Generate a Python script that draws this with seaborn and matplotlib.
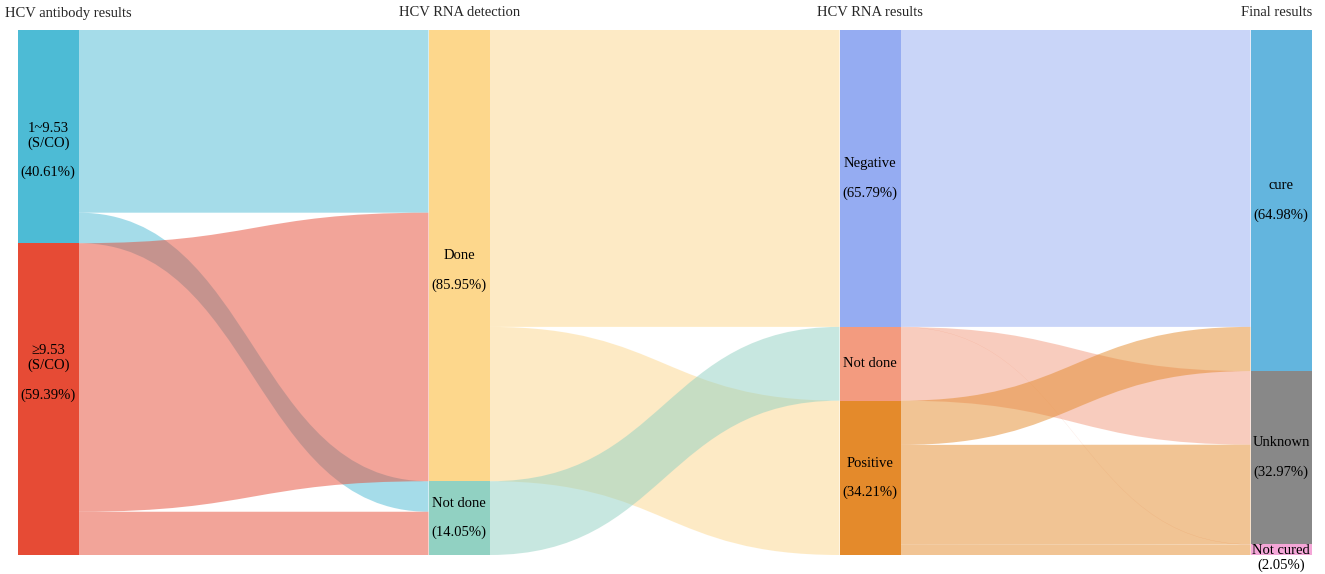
import matplotlib
matplotlib.use("Agg")
import matplotlib.pyplot as plt
from matplotlib.path import Path
from matplotlib.patches import PathPatch, Rectangle
import seaborn as sns

# stage headers
stages = ["HCV antibody results", "HCV RNA detection", "HCV RNA results", "Final results"]

# node ids per stage, top to bottom
stage_nodes = [
    ["ab_low", "ab_high"],
    ["done", "nd_det"],
    ["neg", "nd_res", "pos"],
    ["cure", "unknown", "not_cured"],
]

node_names = {
    "ab_low": "1~9.53\n(S/CO)\n\n(40.61%)",
    "ab_high": "≥9.53\n(S/CO)\n\n(59.39%)",
    "done": "Done\n\n(85.95%)",
    "nd_det": "Not done\n\n(14.05%)",
    "neg": "Negative\n\n(65.79%)",
    "nd_res": "Not done",
    "pos": "Positive\n\n(34.21%)",
    "cure": "cure\n\n(64.98%)",
    "unknown": "Unknown\n\n(32.97%)",
    "not_cured": "Not cured\n(2.05%)",
}

node_colors = {
    "ab_low": "#4DBBD5",
    "ab_high": "#E64B35",
    "done": "#FDD78C",
    "nd_det": "#91D1C2",
    "neg": "#95ACF2",
    "nd_res": "#F39B7F",
    "pos": "#E48A2B",
    "cure": "#63B5DE",
    "unknown": "#888888",
    "not_cured": "#F4A6D7",
}

# flows, share of all patients (%)
link_src = ["ab_low", "ab_low", "ab_high", "ab_high",
            "done", "done", "nd_det",
            "neg", "nd_res", "nd_res", "pos", "pos", "pos"]
link_dst = ["done", "nd_det", "done", "nd_det",
            "neg", "pos", "nd_res",
            "cure", "not_cured", "unknown", "cure", "unknown", "not_cured"]
link_val = [34.80, 5.81, 51.15, 8.24,
            56.55, 29.40, 14.05,
            56.55, 0.05, 14.00, 8.43, 18.97, 2.00]

# small manual nudges of the label blocks (px)
label_shift = {"ab_low": 14, "ab_high": -26, "done": 15, "not_cured": 8}

# layout in pixels
W, H = 1325, 574
top, bottom = 30, 555
x_first, x_step, node_w = 17.5, 411, 61.5
scale = (bottom - top) / 100.0

sns.set_theme(style="white")
plt.rcParams["font.family"] = ["Liberation Serif", "DejaVu Serif"]

fig = plt.figure(figsize=(W / 100, H / 100), dpi=100)
ax = fig.add_axes([0, 0, 1, 1])
ax.set_xlim(0, W)
ax.set_ylim(H, 0)
ax.axis("off")

# node sizes
size = {}
for s, d, v in zip(link_src, link_dst, link_val):
    size[d] = size.get(d, 0) + v
for s, v in zip(link_src, link_val):
    if s in stage_nodes[0]:
        size[s] = size.get(s, 0) + v

node_x, node_y = {}, {}
for i, col in enumerate(stage_nodes):
    y = top
    for n in col:
        node_x[n] = x_first + i * x_step
        node_y[n] = y
        y += size[n] * scale

out_cursor = dict(node_y)
in_cursor = dict(node_y)

# links, drawn in source order so later ones sit on top
for s, d, v in zip(link_src, link_dst, link_val):
    h = v * scale
    sx = node_x[s] + node_w
    tx = node_x[d]
    sy0, ty0 = out_cursor[s], in_cursor[d]
    sy1, ty1 = sy0 + h, ty0 + h
    out_cursor[s] = sy1
    in_cursor[d] = ty1
    mx = (sx + tx) / 2
    verts = [(sx, sy0), (mx, sy0), (mx, ty0), (tx, ty0),
             (tx, ty1), (mx, ty1), (mx, sy1), (sx, sy1), (sx, sy0)]
    codes = [Path.MOVETO, Path.CURVE4, Path.CURVE4, Path.CURVE4,
             Path.LINETO, Path.CURVE4, Path.CURVE4, Path.CURVE4, Path.CLOSEPOLY]
    ax.add_patch(PathPatch(Path(verts, codes), facecolor=node_colors[s],
                           alpha=0.5, lw=0, zorder=1))

# nodes + labels
for n in node_x:
    h = size[n] * scale
    ax.add_patch(Rectangle((node_x[n], node_y[n]), node_w, h,
                           facecolor=node_colors[n], lw=0, zorder=2))
    cy = node_y[n] + h / 2 + label_shift.get(n, 0)
    ax.text(node_x[n] + node_w / 2, cy, node_names[n], ha="center", va="center",
            fontsize=10.5, color="black", linespacing=1.15, zorder=3)

# stage headers
for i, name in enumerate(stages):
    cx = x_first + i * x_step
    if i == 0:
        ax.text(5, 13, name, ha="left", va="center", fontsize=10.5)
    elif i == len(stages) - 1:
        ax.text(cx + node_w, 13, name, ha="right", va="center", fontsize=10.5)
    else:
        ax.text(cx + node_w / 2, 13, name, ha="center", va="center", fontsize=10.5)

fig.savefig("out.png", dpi=100)
